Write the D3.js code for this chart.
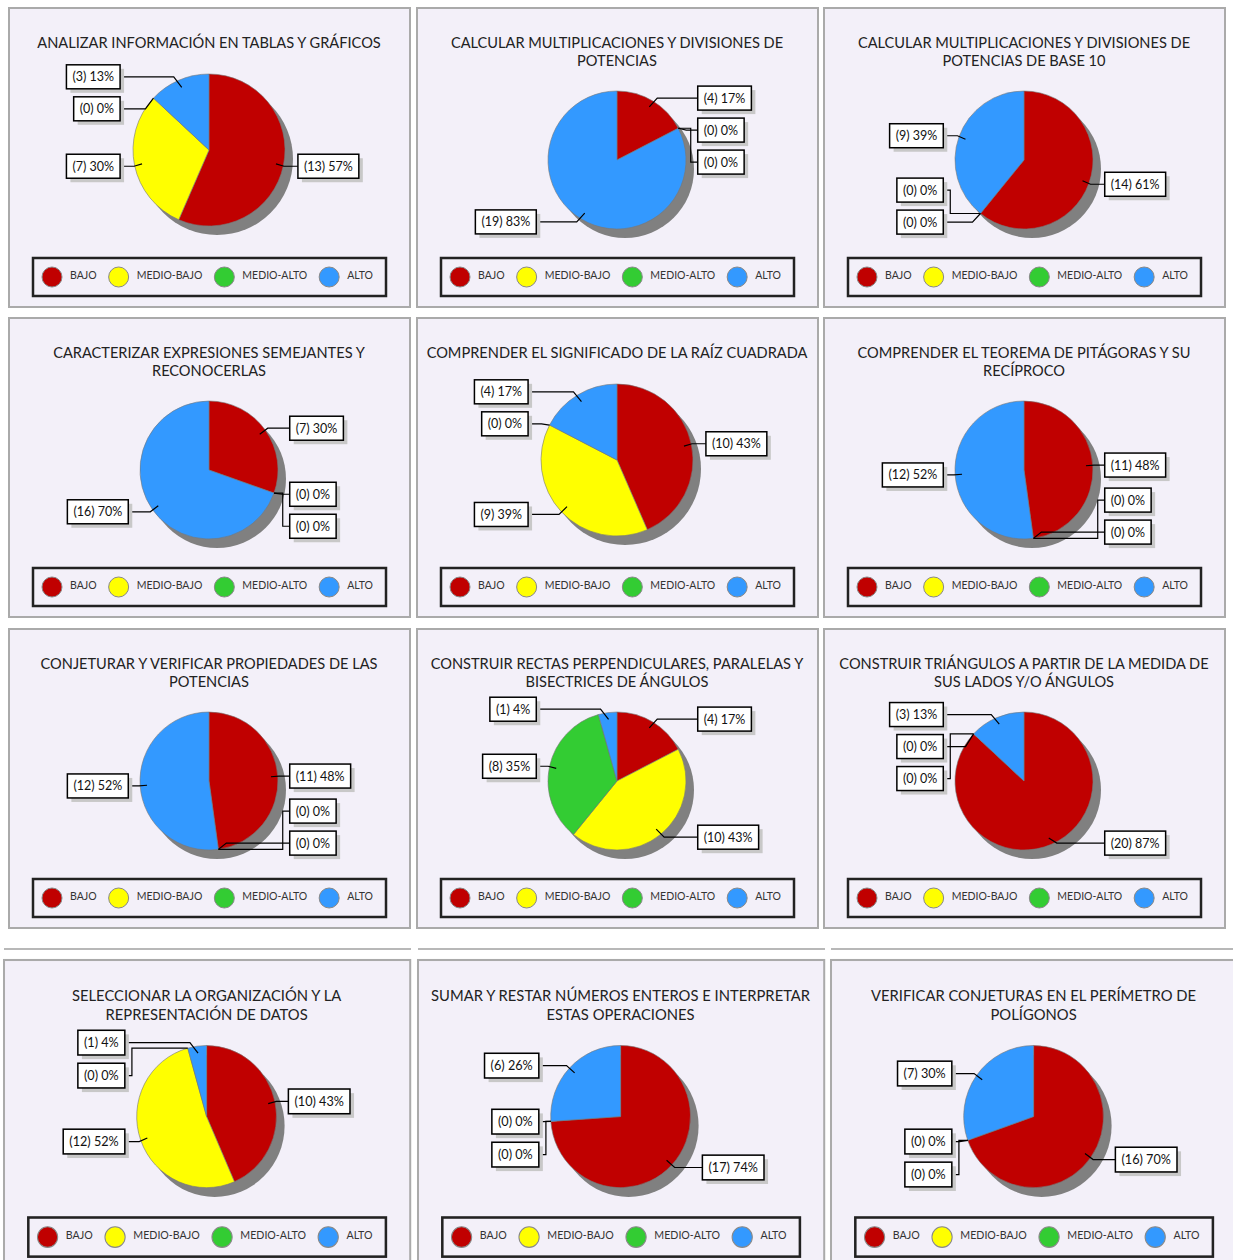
<!DOCTYPE html>
<html>
<head>
<meta charset="utf-8">
<script src="https://cdn.jsdelivr.net/npm/d3@7"></script>
<style>
body { margin: 0; background: #fff; }
svg { display: block; font-family: Lato, "Open Sans", sans-serif; }
</style>
</head>
<body>
<svg width="1233" height="1260"></svg>
<script>
var categories = ["BAJO", "MEDIO-BAJO", "MEDIO-ALTO", "ALTO"];

var titles = [
    ["ANALIZAR INFORMACIÓN EN TABLAS Y GRÁFICOS"],
    ["CALCULAR MULTIPLICACIONES Y DIVISIONES DE", "POTENCIAS"],
    ["CALCULAR MULTIPLICACIONES Y DIVISIONES DE", "POTENCIAS DE BASE 10"],
    ["CARACTERIZAR EXPRESIONES SEMEJANTES Y", "RECONOCERLAS"],
    ["COMPRENDER EL SIGNIFICADO DE LA RAÍZ CUADRADA"],
    ["COMPRENDER EL TEOREMA DE PITÁGORAS Y  SU", "RECÍPROCO"],
    ["CONJETURAR Y VERIFICAR PROPIEDADES DE LAS", "POTENCIAS"],
    ["CONSTRUIR RECTAS PERPENDICULARES,  PARALELAS Y", "BISECTRICES DE ÁNGULOS"],
    ["CONSTRUIR TRIÁNGULOS A PARTIR DE LA MEDIDA DE", "SUS LADOS Y/O ÁNGULOS"],
    ["SELECCIONAR LA ORGANIZACIÓN Y LA", "REPRESENTACIÓN DE DATOS"],
    ["SUMAR Y RESTAR NÚMEROS ENTEROS E INTERPRETAR", "ESTAS OPERACIONES"],
    ["VERIFICAR CONJETURAS EN EL PERÍMETRO DE", "POLÍGONOS"]
];

// number of students per level, one entry per chart
var bajo      = [13,  4, 14,  7, 10, 11, 11,  4, 20, 10, 17, 16];
var medioBajo = [ 7,  0,  0,  0,  9,  0,  0, 10,  0, 12,  0,  0];
var medioAlto = [ 0,  0,  0,  0,  0,  0,  0,  8,  0,  0,  0,  0];
var alto      = [ 3, 19,  9, 16,  4, 12, 12,  1,  3,  1,  6,  7];

var series = [bajo, medioBajo, medioAlto, alto];

var svg = d3.select("svg");

var color = d3.scaleOrdinal()
    .domain(categories)
    .range(["#c00000", "#ffff00", "#33cc33", "#3399ff"]);

var panelW = 401, panelH = 299,
    cols = [9, 417, 824],
    rows = [8, 318, 629],
    lastX = [4, 418, 831],
    lastY = 960;

var pie = d3.pie()
    .sort(null)
    .value(function(d) { return d.value; });

// thin rules between the third and fourth rows
[[4, 411], [418, 825], [831, 1233]].forEach(function(s) {
    svg.append("line")
        .attr("x1", s[0]).attr("x2", s[1])
        .attr("y1", 949).attr("y2", 949)
        .attr("stroke", "#a0a0a0")
        .attr("stroke-width", 1.5);
});

titles.forEach(function(t, i) {
    var row = Math.floor(i / 3), col = i % 3,
        x = row < 3 ? cols[col] : lastX[col],
        y = row < 3 ? rows[row] : lastY,
        s = row < 3 ? "1" : "1.013,1.03"; // last row was pasted a bit bigger
    var g = svg.append("g")
        .attr("transform", "translate(" + x + "," + y + ") scale(" + s + ")");
    drawPanel(g, i);
});

function drawPanel(g, i) {
    var data = categories.map(function(c, k) { return {cat: c, value: series[k][i]}; }),
        total = d3.sum(data, function(d) { return d.value; }),
        lines = titles[i],
        r = lines.length > 1 ? 69 : 76,
        cx = 200,
        cy = lines.length > 1 ? 152 : 142;

    g.append("rect")
        .attr("width", panelW)
        .attr("height", panelH)
        .attr("fill", "#f3f0f9")
        .attr("stroke", "#aaa")
        .attr("stroke-width", 2);

    g.append("text")
        .attr("text-anchor", "middle")
        .attr("fill", "#222")
        .style("font-size", "14.6px")
      .selectAll("tspan")
        .data(lines)
        .enter()
      .append("tspan")
        .attr("x", cx)
        .attr("y", function(d, k) { return 40 + k * 18; })
        .text(function(d) { return d; });

    var arcs = pie(data),
        arc = d3.arc().innerRadius(0).outerRadius(r);

    var pg = g.append("g")
        .attr("transform", "translate(" + cx + "," + cy + ")");

    pg.append("circle")
        .attr("cx", 8).attr("cy", 9).attr("r", r)
        .attr("fill", "#808080");

    pg.selectAll("path")
        .data(arcs.filter(function(d) { return d.value > 0; }))
        .enter()
      .append("path")
        .attr("d", arc)
        .attr("fill", function(d) { return color(d.data.cat); })
        .attr("stroke", "#777")
        .attr("stroke-width", 0.6);

    // data labels: put them on the side of the slice, then spread out overlaps
    var labels = arcs.map(function(d) {
        var a = (d.startAngle + d.endAngle) / 2,
            ar = d.value > 0 ? r * 0.9 : r;
        return {
            a: a,
            side: Math.sin(a) >= -1e-9 ? 1 : -1,
            ax: Math.sin(a) * ar,
            ay: -Math.cos(a) * ar,
            y: -Math.cos(a) * r * 1.05,
            text: "(" + d.value + ") " + Math.round(d.value / total * 100) + "%"
        };
    });

    var gap = 32, minY = -r * 1.05, maxY = r * 0.9;
    [1, -1].forEach(function(side) {
        var ls = labels.filter(function(l) { return l.side === side; })
            .sort(function(p, q) { return side * (p.a - q.a); });
        ls.forEach(function(l) { l.y = Math.max(minY, Math.min(maxY, l.y)); });
        for (var k = 1; k < ls.length; k++) {
            if (ls[k].y < ls[k - 1].y + gap) ls[k].y = ls[k - 1].y + gap;
        }
        if (ls.length && ls[ls.length - 1].y > maxY) ls[ls.length - 1].y = maxY;
        for (k = ls.length - 2; k >= 0; k--) {
            if (ls[k].y > ls[k + 1].y - gap) ls[k].y = ls[k + 1].y - gap;
        }
    });

    labels.forEach(function(l) {
        var edge = l.side * r * 1.17,
            d;
        if (Math.abs(l.y - l.ay) > 20) {
            // pushed label: run across first, then up/down next to the box
            var vx = edge - l.side * 7;
            d = "M" + l.ax + "," + l.ay + "L" + vx + "," + l.ay + "L" + vx + "," + l.y + "L" + edge + "," + l.y;
        } else {
            var bx = l.ax + l.side * 8;
            if (Math.abs(bx) > Math.abs(edge) - 2) bx = edge - l.side * 2;
            d = "M" + l.ax + "," + l.ay + "L" + bx + "," + l.y + "L" + edge + "," + l.y;
        }

        pg.append("path")
            .attr("d", d)
            .attr("fill", "none")
            .attr("stroke", "#000")
            .attr("stroke-width", 1.2);

        var lb = pg.append("g");
        var txt = lb.append("text")
            .attr("text-anchor", "middle")
            .attr("fill", "#111")
            .style("font-size", "12.5px")
            .text(l.text);
        var w = txt.node().getComputedTextLength() + 12,
            h = 24,
            x0 = l.side > 0 ? edge : edge - w;
        lb.insert("rect", "text")
            .attr("x", x0 + 4).attr("y", l.y - h / 2 + 4)
            .attr("width", w).attr("height", h)
            .attr("fill", "#c8c8c8");
        lb.insert("rect", "text")
            .attr("x", x0).attr("y", l.y - h / 2)
            .attr("width", w).attr("height", h)
            .attr("fill", "#fff")
            .attr("stroke", "#000")
            .attr("stroke-width", 1.5);
        txt.attr("x", x0 + w / 2).attr("y", l.y + 4.5);
    });

    // legend
    var lg = g.append("g");
    lg.append("rect")
        .attr("x", 24).attr("y", 250)
        .attr("width", 353).attr("height", 38)
        .attr("fill", "none")
        .attr("stroke", "#222")
        .attr("stroke-width", 2.5);
    var xpos = 43;
    categories.forEach(function(c) {
        lg.append("circle")
            .attr("cx", xpos).attr("cy", 269).attr("r", 10)
            .attr("fill", color(c))
            .attr("stroke", "#888");
        var t = lg.append("text")
            .attr("x", xpos + 18).attr("y", 271)
            .attr("fill", "#333")
            .style("font-size", "10.5px")
            .text(c);
        xpos += 18 + t.node().getComputedTextLength() + 22;
    });
}
</script>
</body>
</html>
